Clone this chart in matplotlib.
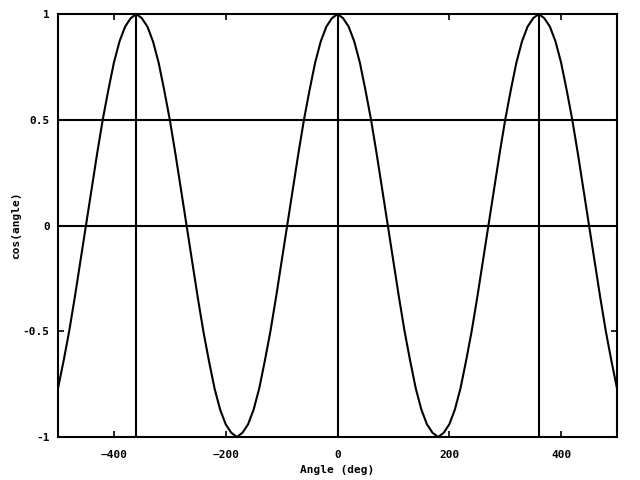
import matplotlib
matplotlib.use('Agg')
import matplotlib.pyplot as plt

angle = list(range(-500, 501, 10))
cos_val = [-0.77, -0.64, -0.50, -0.34, -0.17, 0.00, 0.17, 0.34, 0.50, 0.64,
           0.77, 0.87, 0.94, 0.98, 1.00, 0.98, 0.94, 0.87, 0.77, 0.64,
           0.50, 0.34, 0.17, 0.00, -0.17, -0.34, -0.50, -0.64, -0.77, -0.87,
           -0.94, -0.98, -1.00, -0.98, -0.94, -0.87, -0.77, -0.64, -0.50, -0.34,
           -0.17, 0.00, 0.17, 0.34, 0.50, 0.64, 0.77, 0.87, 0.94, 0.98,
           1.00,
           0.98, 0.94, 0.87, 0.77, 0.64, 0.50, 0.34, 0.17, 0.00, -0.17,
           -0.34, -0.50, -0.64, -0.77, -0.87, -0.94, -0.98, -1.00, -0.98, -0.94,
           -0.87, -0.77, -0.64, -0.50, -0.34, -0.17, 0.00, 0.17, 0.34, 0.50,
           0.64, 0.77, 0.87, 0.94, 0.98, 1.00, 0.98, 0.94, 0.87, 0.77,
           0.64, 0.50, 0.34, 0.17, 0.00, -0.17, -0.34, -0.50, -0.64, -0.77]
vlines = [-360, 0, 360]
hlines = [0, 0.5]
xticks = [-400, -200, 0, 200, 400]
yticks = [-1, -0.5, 0, 0.5, 1]
ytick_labels = ['-1', '-0.5', '0', '0.5', '1']

plt.rcParams['font.family'] = 'DejaVu Sans Mono'
plt.rcParams['font.weight'] = 'bold'
plt.rcParams['font.size'] = 8

fig = plt.figure(figsize=(6.4, 4.8), dpi=100)
ax = fig.add_axes([58 / 640, 43 / 480, 559 / 640, 423 / 480])

for x in vlines:
    ax.axvline(x, color='black', lw=1.5)
for y in hlines:
    ax.axhline(y, color='black', lw=1.5)
ax.plot(angle, cos_val, color='black', lw=1.5)

ax.set_xlim(-500, 500)
ax.set_ylim(-1, 1)
ax.set_xticks(xticks)
ax.set_yticks(yticks)
ax.set_yticklabels(ytick_labels)
ax.tick_params(direction='in', length=4, width=1.2, top=True, right=True)
ax.tick_params(axis='x', pad=9)
ax.tick_params(axis='y', pad=6)
for s in ax.spines.values():
    s.set_linewidth(1.5)

ax.set_xlabel('Angle (deg)', fontweight='bold', labelpad=4)
ax.set_ylabel('cos(angle)', fontweight='bold', labelpad=1)

plt.savefig('out.png', dpi=100)
